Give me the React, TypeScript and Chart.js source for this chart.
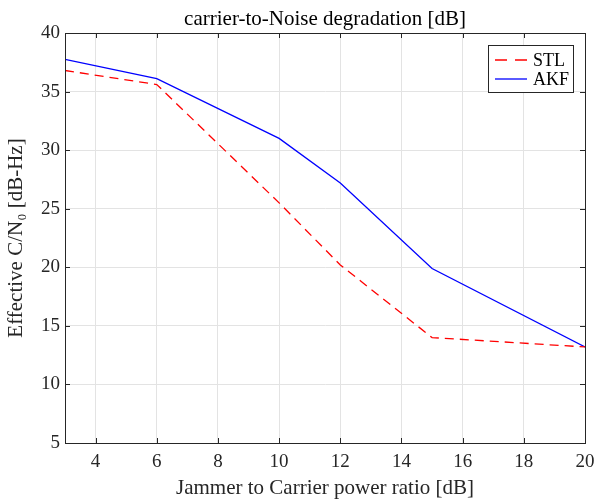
import React, { useEffect, useRef } from "react";
import { Chart, registerables } from "chart.js";

Chart.register(...registerables);

const xValues = [3, 6, 10, 12, 15, 20];
const stlValues = [36.8, 35.6, 25.5, 20.2, 14.0, 13.2];
const akfValues = [37.75, 36.1, 31.0, 27.2, 19.9, 13.2];
const xTicks = [4, 6, 8, 10, 12, 14, 16, 18, 20];
const yTicks = [5, 10, 15, 20, 25, 30, 35, 40];
const titleText = "carrier-to-Noise degradation [dB]";
const xTitle = "Jammer to Carrier power ratio [dB]";
const yTitle = "Effective C/N\u2080 [dB-Hz]";
const seriesNames = ["STL", "AKF"];

const FONT = "'Liberation Serif', 'Times New Roman', serif";
const AXIS = "#262626";

const decorPlugin = {
  id: "decor",
  afterDraw(chart: any) {
    const { ctx, chartArea: a, scales } = chart;
    ctx.save();
    ctx.strokeStyle = AXIS;
    ctx.lineWidth = 1;
    ctx.strokeRect(Math.round(a.left) + 0.5, Math.round(a.top) + 0.5, Math.round(a.right - a.left), Math.round(a.bottom - a.top));
    const tl = 5;
    ctx.beginPath();
    xTicks.forEach((v) => {
      const px = Math.round(scales.x.getPixelForValue(v)) + 0.5;
      ctx.moveTo(px, a.bottom);
      ctx.lineTo(px, a.bottom - tl);
      ctx.moveTo(px, a.top);
      ctx.lineTo(px, a.top + tl);
    });
    yTicks.forEach((v) => {
      const py = Math.round(scales.y.getPixelForValue(v)) + 0.5;
      ctx.moveTo(a.left, py);
      ctx.lineTo(a.left + tl, py);
      ctx.moveTo(a.right, py);
      ctx.lineTo(a.right - tl, py);
    });
    ctx.stroke();
    ctx.fillStyle = "#000";
    ctx.font = `21px ${FONT}`;
    ctx.textAlign = "center";
    ctx.textBaseline = "alphabetic";
    ctx.fillText(titleText, (a.left + a.right) / 2, a.top - 8);
    const bx = a.right - 97, by = a.top + 12, bw = 85, bh = 47;
    ctx.fillStyle = "#fff";
    ctx.fillRect(bx, by, bw, bh);
    ctx.strokeStyle = AXIS;
    ctx.strokeRect(Math.round(bx) + 0.5, Math.round(by) + 0.5, bw, bh);
    const colors = ["#ff0000", "#0000ff"];
    const dashes = [[12, 8], []];
    seriesNames.forEach((name, i) => {
      const ly = by + 15 + i * 19;
      ctx.beginPath();
      ctx.strokeStyle = colors[i];
      ctx.lineWidth = 1.3;
      ctx.setLineDash(dashes[i]);
      ctx.moveTo(bx + 7, ly);
      ctx.lineTo(bx + 39, ly);
      ctx.stroke();
      ctx.setLineDash([]);
      ctx.fillStyle = "#000";
      ctx.font = `18px ${FONT}`;
      ctx.textAlign = "left";
      ctx.textBaseline = "middle";
      ctx.fillText(name, bx + 45, ly + 1);
    });
    ctx.restore();
  },
};

export default function App() {
  const ref = useRef<HTMLCanvasElement>(null);
  useEffect(() => {
    document.body.style.margin = "0";
    const chart = new Chart(ref.current!, {
      type: "line",
      data: {
        datasets: [
          {
            label: seriesNames[0],
            data: xValues.map((x, i) => ({ x, y: stlValues[i] })),
            borderColor: "#ff0000",
            borderWidth: 1.3,
            borderDash: [9, 6],
            pointRadius: 0,
            fill: false,
          },
          {
            label: seriesNames[1],
            data: xValues.map((x, i) => ({ x, y: akfValues[i] })),
            borderColor: "#0000ff",
            borderWidth: 1.3,
            pointRadius: 0,
            fill: false,
          },
        ],
      },
      options: {
        animation: false,
        responsive: false,
        devicePixelRatio: 1,
        layout: { padding: { top: 33, right: 0, left: 0, bottom: 0 } },
        plugins: { legend: { display: false }, title: { display: false }, tooltip: { enabled: false } },
        scales: {
          x: {
            type: "linear",
            min: 3,
            max: 20,
            afterBuildTicks: (s: any) => {
              s.ticks = xTicks.map((v) => ({ value: v }));
            },
            afterFit: (s: any) => {
              s.height = 56;
              s.paddingRight = 9;
              s.paddingLeft = 0;
            },
            grid: { color: "#e3e3e3", drawTicks: false, lineWidth: 1 },
            border: { color: AXIS },
            ticks: { color: AXIS, font: { family: FONT, size: 19 }, padding: 8, maxRotation: 0 },
            title: { display: true, text: xTitle, color: AXIS, font: { family: FONT, size: 21, lineHeight: 1 }, padding: { top: 2, bottom: 0 } },
          },
          y: {
            type: "linear",
            min: 5,
            max: 40,
            afterBuildTicks: (s: any) => {
              s.ticks = yTicks.map((v) => ({ value: v }));
            },
            afterFit: (s: any) => {
              s.width = 65;
            },
            grid: { color: "#e3e3e3", drawTicks: false, lineWidth: 1 },
            border: { color: AXIS },
            ticks: { color: AXIS, font: { family: FONT, size: 19 }, padding: 5 },
            title: { display: true, text: yTitle, color: AXIS, font: { family: FONT, size: 21, lineHeight: 1 }, padding: { top: 6, bottom: 0 } },
          },
        },
      },
      plugins: [decorPlugin],
    });
    return () => chart.destroy();
  }, []);
  return (
    <div style={{ width: 594, height: 499 }}>
      <canvas ref={ref} width={594} height={499} />
    </div>
  );
}
